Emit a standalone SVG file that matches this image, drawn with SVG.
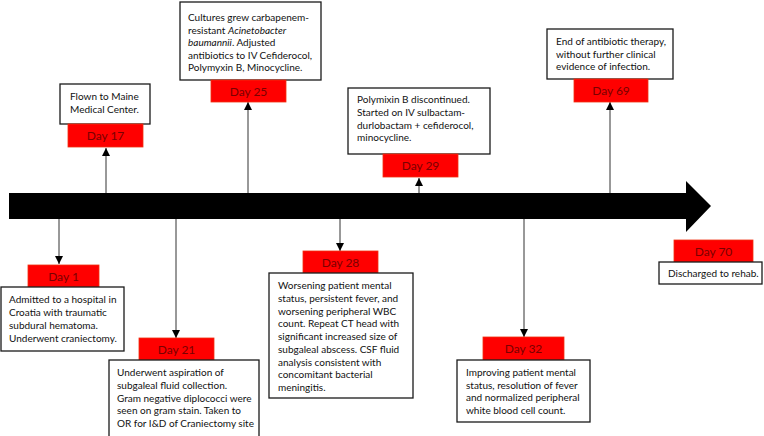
<svg xmlns="http://www.w3.org/2000/svg" width="764" height="436" viewBox="0 0 764 436">
<defs>
<marker id="ah" viewBox="0 0 8 8" refX="8" refY="4" markerWidth="8" markerHeight="8" markerUnits="userSpaceOnUse" orient="auto">
<path d="M0,0 L8,4 L0,8 z" fill="#000"/>
</marker>
</defs>
<style>
.box{fill:#fff;stroke:#1a1a1a;stroke-width:1.3}
.day{fill:#ff0000;stroke:#f03010;stroke-width:0.8}
.dt{font-family:Lato,"Liberation Sans",sans-serif;font-size:12px;fill:#7a0000;text-anchor:middle}
.t{font-family:Lato,"Liberation Sans",sans-serif;font-size:10px;fill:#111}
.c{stroke:#333;stroke-width:1;fill:none;marker-end:url(#ah)}
</style>
<rect width="764" height="436" fill="#fff"/>
<g id="timeline">
<polygon points="9,193 686,193 686,181 711,206 686,232 686,219 9,219" fill="#000"/>
</g>
<g id="connectors">
<line class="c" x1="106" y1="193" x2="106" y2="148"/>
<line class="c" x1="248" y1="193" x2="248" y2="102"/>
<line class="c" x1="419" y1="193" x2="419" y2="178"/>
<line class="c" x1="610" y1="193" x2="610" y2="102"/>
<line class="c" x1="59" y1="219" x2="59" y2="264"/>
<line class="c" x1="176" y1="219" x2="176" y2="338"/>
<line class="c" x1="340" y1="219" x2="340" y2="251"/>
<line class="c" x1="524" y1="219" x2="524" y2="337"/>
</g>
<g id="day17">
<rect class="box" x="60" y="84" width="90" height="40"/>
<text class="t" x="70" y="100">Flown to Maine</text>
<text class="t" x="70" y="113">Medical Center.</text>
<rect class="day" x="68" y="124" width="75" height="23"/>
<text class="dt" x="105.5" y="140">Day 17</text>
</g>
<g id="day25">
<rect class="box" x="180" y="2" width="141" height="78"/>
<text class="t" x="188" y="21">Cultures grew carbapenem-</text>
<text class="t" x="188" y="33.5">resistant <tspan font-style="italic">Acinetobacter</tspan></text>
<text class="t" x="188" y="46"><tspan font-style="italic">baumannii</tspan>. Adjusted</text>
<text class="t" x="188" y="58.5">antibiotics to IV Cefiderocol,</text>
<text class="t" x="188" y="71">Polymyxin B, Minocycline.</text>
<rect class="day" x="211" y="80" width="75" height="22"/>
<text class="dt" x="248.5" y="95.5">Day 25</text>
</g>
<g id="day29">
<rect class="box" x="348" y="88" width="142" height="66"/>
<text class="t" x="357" y="103">Polymixin B discontinued.</text>
<text class="t" x="357" y="116">Started on IV sulbactam-</text>
<text class="t" x="357" y="129">durlobactam + cefiderocol,</text>
<text class="t" x="357" y="141">minocycline.</text>
<rect class="day" x="383" y="154" width="75" height="23"/>
<text class="dt" x="420.5" y="170">Day 29</text>
</g>
<g id="day69">
<rect class="box" x="547" y="29" width="126" height="50"/>
<text class="t" x="556" y="45">End of antibiotic therapy,</text>
<text class="t" x="556" y="57.5">without further clinical</text>
<text class="t" x="556" y="70">evidence of infection.</text>
<rect class="day" x="574" y="79" width="74" height="23"/>
<text class="dt" x="611" y="95">Day 69</text>
</g>
<g id="day1">
<rect class="day" x="28" y="265" width="71" height="22"/>
<text class="dt" x="63.5" y="280.5">Day 1</text>
<rect class="box" x="1" y="287" width="123" height="64"/>
<text class="t" x="9" y="303">Admitted to a hospital in</text>
<text class="t" x="9" y="316">Croatia with traumatic</text>
<text class="t" x="9" y="329">subdural hematoma.</text>
<text class="t" x="9" y="342">Underwent craniectomy.</text>
</g>
<g id="day21">
<rect class="day" x="139" y="338" width="75" height="22"/>
<text class="dt" x="176.5" y="353.5">Day 21</text>
<rect class="box" x="109" y="360" width="150" height="84"/>
<text class="t" x="117" y="376">Underwent aspiration of</text>
<text class="t" x="117" y="389">subgaleal fluid collection.</text>
<text class="t" x="117" y="402">Gram negative diplococci were</text>
<text class="t" x="117" y="414">seen on gram stain. Taken to</text>
<text class="t" x="117" y="427">OR for I&amp;D of Craniectomy site</text>
</g>
<g id="day28">
<rect class="day" x="303" y="251" width="75" height="22"/>
<text class="dt" x="340.5" y="266.5">Day 28</text>
<rect class="box" x="269" y="273" width="144" height="125"/>
<text class="t" x="278" y="289">Worsening patient mental</text>
<text class="t" x="278" y="302">status, persistent fever, and</text>
<text class="t" x="278" y="315">worsening peripheral WBC</text>
<text class="t" x="278" y="327">count. Repeat CT head with</text>
<text class="t" x="278" y="340">significant increased size of</text>
<text class="t" x="278" y="353">subgaleal abscess. CSF fluid</text>
<text class="t" x="278" y="366">analysis consistent with</text>
<text class="t" x="278" y="378">concomitant bacterial</text>
<text class="t" x="278" y="391">meningitis.</text>
</g>
<g id="day32">
<rect class="day" x="483" y="337" width="81" height="23"/>
<text class="dt" x="523.5" y="353">Day 32</text>
<rect class="box" x="457" y="360" width="133" height="62"/>
<text class="t" x="466" y="376">Improving patient mental</text>
<text class="t" x="466" y="389">status, resolution of fever</text>
<text class="t" x="466" y="401">and normalized peripheral</text>
<text class="t" x="466" y="414">white blood cell count.</text>
</g>
<g id="day70">
<rect class="day" x="674" y="240" width="79" height="22"/>
<text class="dt" x="713.5" y="255.5">Day 70</text>
<rect class="box" x="659" y="262" width="103" height="22"/>
<text class="t" x="668" y="277">Discharged to rehab.</text>
</g>
</svg>
